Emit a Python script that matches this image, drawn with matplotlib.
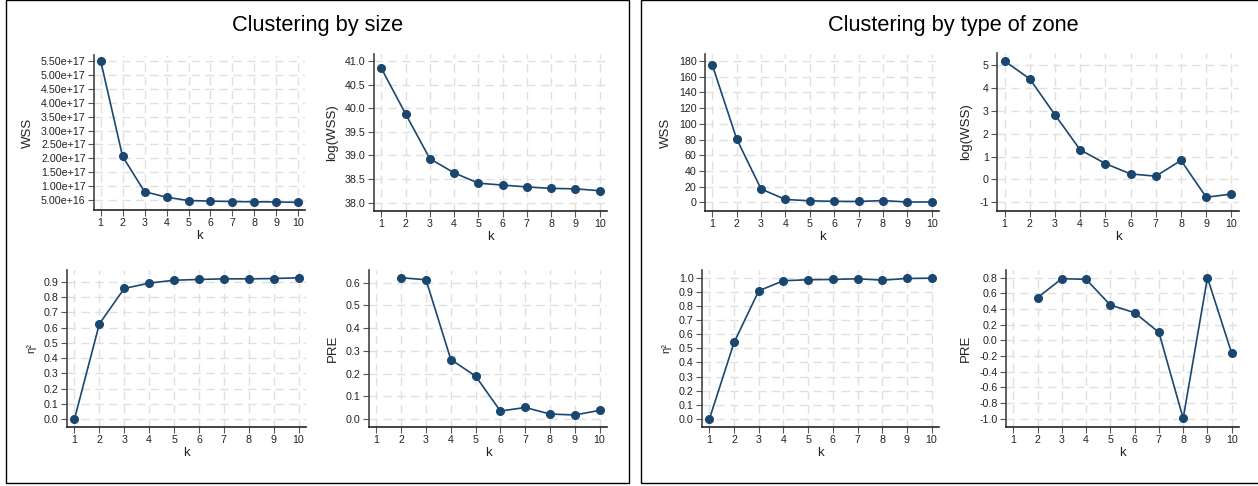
import matplotlib
matplotlib.use("Agg")
import matplotlib.pyplot as plt
from matplotlib.patches import Rectangle
from matplotlib.ticker import FuncFormatter, FixedLocator
import numpy as np

plt.rcParams['font.family'] = ['Liberation Sans', 'DejaVu Sans']

# ---------------- data ----------------
k = [1, 2, 3, 4, 5, 6, 7, 8, 9, 10]

size_wss = [5.52e17, 2.07e17, 8.0e16, 6.0e16, 4.8e16, 4.6e16, 4.45e16, 4.35e16, 4.3e16, 4.15e16]
size_logwss = [40.85, 39.88, 38.93, 38.63, 38.41, 38.37, 38.33, 38.30, 38.29, 38.25]
size_eta2 = [0.0, 0.624, 0.856, 0.891, 0.910, 0.915, 0.919, 0.919, 0.921, 0.926]
size_pre_k = [2, 3, 4, 5, 6, 7, 8, 9, 10]
size_pre = [0.622, 0.613, 0.262, 0.189, 0.035, 0.051, 0.022, 0.018, 0.038]

zone_wss = [175.0, 80.7, 17.0, 3.7, 2.0, 1.3, 1.15, 2.3, 0.45, 0.52]
zone_logwss = [5.17, 4.39, 2.82, 1.29, 0.69, 0.24, 0.14, 0.83, -0.78, -0.64]
zone_eta2 = [0.0, 0.542, 0.908, 0.979, 0.986, 0.988, 0.993, 0.983, 0.995, 0.997]
zone_pre_k = [2, 3, 4, 5, 6, 7, 8, 9, 10]
zone_pre = [0.545, 0.787, 0.779, 0.451, 0.353, 0.102, -0.996, 0.80, -0.166]

titles = ["Clustering by size", "Clustering by type of zone"]

# ---------------- styling ----------------
W, H = 1258, 486
LINE = "#1a476f"
GRID = "#e0e0e0"
TXT = "#222222"

fig = plt.figure(figsize=(W / 100, H / 100), dpi=100)
fig.patch.set_facecolor("white")


def add_axes_px(left, right, top, bottom):
    return fig.add_axes([left / W, 1 - bottom / H, (right - left) / W, (bottom - top) / H])


def style(ax, x, y, yticks, ylim, ylabel, fmt, lsize=9.5):
    ax.plot(x, y, color=LINE, lw=1.2, marker="o", ms=5.5, mfc=LINE, mec=LINE, zorder=3)
    ax.set_xlim(0.7, 10.3)
    ax.set_ylim(*ylim)
    ax.set_xticks(k)
    ax.yaxis.set_major_locator(FixedLocator(yticks))
    ax.yaxis.set_major_formatter(FuncFormatter(fmt))
    ax.grid(True, color=GRID, lw=1.0, ls=(0, (6, 4)), zorder=0)
    ax.set_axisbelow(True)
    for s in ["top", "right"]:
        ax.spines[s].set_visible(False)
    ax.spines["left"].set_color("#444444")
    ax.spines["bottom"].set_color("#222222")
    ax.spines["left"].set_linewidth(1.2)
    ax.spines["bottom"].set_linewidth(1.2)
    ax.tick_params(axis="both", direction="out", length=4, width=0.8, color="#555555",
                   labelsize=7.7, labelcolor=TXT, pad=2)
    ax.set_xlabel("k", fontsize=9.5, color=TXT, labelpad=1)
    ax.set_ylabel(ylabel, fontsize=lsize, color=TXT, labelpad=5)


sci = lambda v, p: f"{v:.2e}"
one = lambda v, p: f"{v:.1f}"
integ = lambda v, p: f"{v:.0f}"

# left panel
ax = add_axes_px(94, 305, 55, 210)
style(ax, k, size_wss, [5e16 * i for i in range(1, 12)], (1.4e16, 5.72e17), "WSS", sci)
ax = add_axes_px(374, 607, 54, 211)
style(ax, k, size_logwss, list(np.arange(38.0, 41.01, 0.5)), (37.82, 41.15), "log(WSS)", one)
ax = add_axes_px(67, 306, 270, 427)
style(ax, k, size_eta2, list(np.arange(0, 0.91, 0.1)), (-0.052, 0.977), "η²", one, 8)
ax = add_axes_px(369, 607, 270, 427)
style(ax, size_pre_k, size_pre, list(np.arange(0, 0.61, 0.1)), (-0.035, 0.656), "PRE", one)

# right panel
ax = add_axes_px(705, 939, 54, 211)
style(ax, k, zone_wss, list(range(0, 181, 20)), (-11, 189), "WSS", integ)
ax = add_axes_px(997, 1239, 53, 211)
style(ax, k, zone_logwss, list(range(-1, 6)), (-1.38, 5.52), "log(WSS)", integ)
ax = add_axes_px(702, 939, 270, 427)
style(ax, k, zone_eta2, list(np.arange(0, 1.01, 0.1)), (-0.057, 1.055), "η²", one, 8)
ax = add_axes_px(1006, 1239, 270, 427)
style(ax, zone_pre_k, zone_pre, list(np.arange(-1.0, 0.81, 0.2)), (-1.106, 0.898), "PRE",
      lambda v, p: f"{0.0 if abs(v) < 1e-9 else v:.1f}")

# panel boxes and titles
for (l, r), cx, t in zip([(6, 629), (641, 1262)], [318, 953], titles):
    rect = Rectangle((l / W, 1 - 483 / H), (r - l) / W, 483 / H, transform=fig.transFigure,
                     fill=False, ec="black", lw=1.0, clip_on=False)
    fig.add_artist(rect)
    fig.text(cx / W, 1 - 25 / H, t, ha="center", va="center",
             fontsize=15.7, color="black")

fig.savefig("out.png", dpi=100, facecolor="white")
